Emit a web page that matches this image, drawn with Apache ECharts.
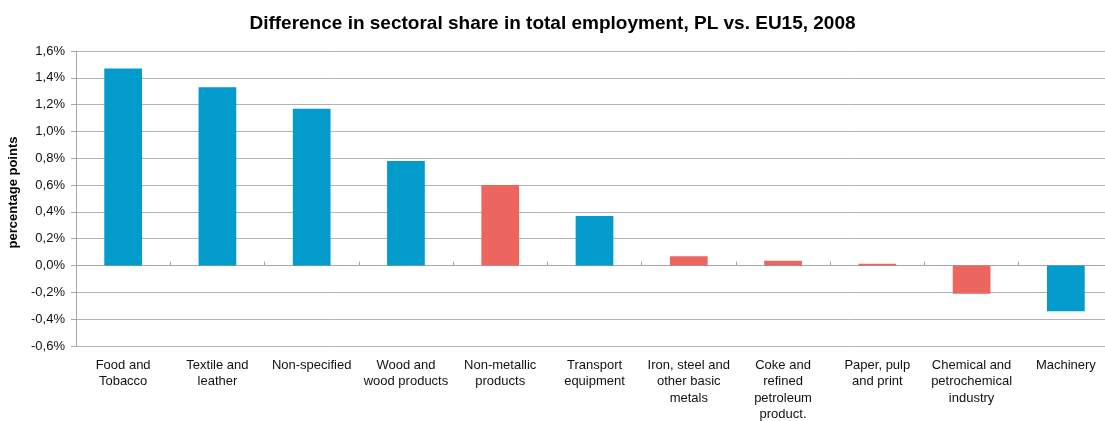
<!DOCTYPE html>
<html>
<head>
<meta charset="utf-8">
<script src="https://cdn.jsdelivr.net/npm/echarts@6/dist/echarts.min.js"></script>
<style>
html,body{margin:0;padding:0;background:#fff;}
#chart{width:1105px;height:421px;}
</style>
</head>
<body>
<div id="chart"></div>
<script>
const titleText = 'Difference in sectoral share in total employment, PL vs. EU15, 2008';
const categories = [
  'Food and\nTobacco',
  'Textile and\nleather',
  'Non-specified',
  'Wood and\nwood products',
  'Non-metallic\nproducts',
  'Transport\nequipment',
  'Iron, steel and\nother basic\nmetals',
  'Coke and\nrefined\npetroleum\nproduct.',
  'Paper, pulp\nand print',
  'Chemical and\npetrochemical\nindustry',
  'Machinery'
];
// difference in percentage points
const values = [1.47, 1.33, 1.17, 0.78, 0.60, 0.37, 0.07, 0.035, 0.013, -0.21, -0.34];
// sector group (0 = group A, 1 = group B)
const groups = [0, 0, 0, 0, 1, 0, 1, 1, 1, 1, 0];
const yTicks = { min: -0.6, max: 1.6, interval: 0.2 };
const yAxisName = 'percentage points';

const groupColors = ['#039BCC', '#EC655E'];
const font = 'Liberation Sans, Arial, sans-serif';

const chart = echarts.init(document.getElementById('chart'));
chart.setOption({
  backgroundColor: '#fff',
  animation: false,
  title: {
    text: titleText,
    left: 'center',
    top: 9,
    textStyle: { fontFamily: font, fontWeight: 'bold', fontSize: 19, color: '#000' }
  },
  grid: { left: 76, top: 51, width: 1037, height: 295, containLabel: false, outerBoundsMode: 'none' },
  xAxis: [
    {
      type: 'category',
      data: categories,
      position: 'bottom',
      axisLine: { show: false, onZero: false },
      axisTick: { show: false },
      axisLabel: {
        interval: 0, margin: 11, fontFamily: font, fontSize: 13, color: '#111', lineHeight: 16.5
      }
    },
    {
      type: 'category',
      data: categories,
      position: 'bottom',
      axisLine: { show: true, onZero: true, lineStyle: { color: '#a6a6a6', width: 1 } },
      axisTick: { show: true, inside: true, interval: 0, length: 4, lineStyle: { color: '#a6a6a6' } },
      axisLabel: { show: false }
    }
  ],
  yAxis: {
    type: 'value',
    min: yTicks.min, max: yTicks.max, interval: yTicks.interval,
    name: yAxisName,
    nameLocation: 'middle',
    nameGap: 47,
    nameRotate: 90,
    nameTextStyle: { fontFamily: font, fontWeight: 'bold', fontSize: 13, color: '#000', padding: [0, 0, 0, 12] },
    axisLine: { show: true, lineStyle: { color: '#a6a6a6' } },
    axisTick: { show: true, length: 5, lineStyle: { color: '#a6a6a6' } },
    axisLabel: {
      margin: 11, fontFamily: font, fontSize: 13, color: '#111',
      formatter: v => v.toFixed(1).replace('.', ',') + '%'
    },
    splitLine: { show: true, lineStyle: { color: '#b3b3b3', width: 1 } }
  },
  series: [{
    type: 'bar',
    xAxisIndex: 0,
    barWidth: '40%',
    data: values.map((v, i) => ({ value: v, itemStyle: { color: groupColors[groups[i]] } }))
  }]
});
</script>
</body>
</html>
